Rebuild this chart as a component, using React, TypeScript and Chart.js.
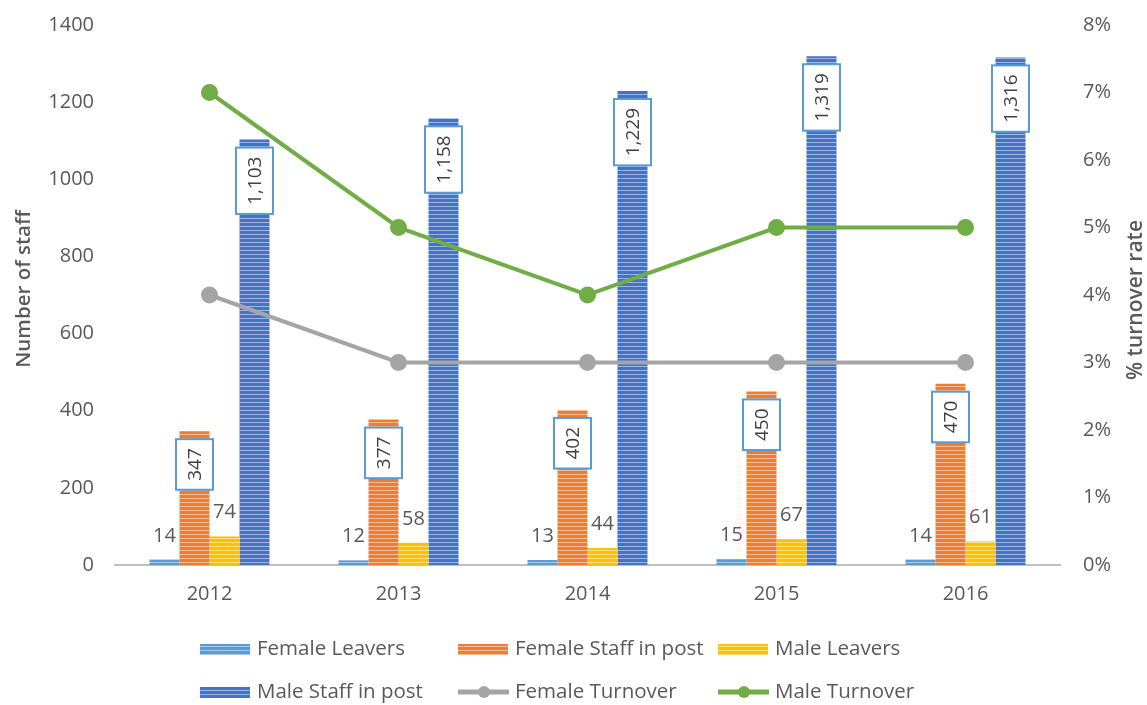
import React, { useEffect, useRef } from "react";
import { Chart, registerables } from "chart.js";
Chart.register(...registerables);

const years = ["2012", "2013", "2014", "2015", "2016"];
const femaleLeavers = [14, 12, 13, 15, 14];
const femaleStaff = [347, 377, 402, 450, 470];
const maleLeavers = [74, 58, 44, 67, 61];
const maleStaff = [1103, 1158, 1229, 1319, 1316];
const femaleTurnover = [4, 3, 3, 3, 3];
const maleTurnover = [7, 5, 4, 5, 5];
const leftMax = 1400;
const leftStep = 200;
const rightMax = 8;
const rightStep = 1;

const FONT = '"Open Sans", "Noto Sans", sans-serif';
const TXT = "#595959";

function stripe(base: string, light: string): CanvasPattern | string {
  const c = document.createElement("canvas");
  c.width = 4;
  c.height = 4;
  const g = c.getContext("2d");
  if (!g) return base;
  g.fillStyle = base;
  g.fillRect(0, 0, 4, 4);
  g.fillStyle = light;
  g.fillRect(0, 2, 4, 1);
  return g.createPattern(c, "repeat") || base;
}

const fmt = (v: number) => v.toLocaleString("en-US");

export default function App() {
  const ref = useRef<HTMLCanvasElement | null>(null);
  useEffect(() => {
    if (!ref.current) return;
    const pFL = stripe("#5B9BD5", "#A9CBEA");
    const pFS = stripe("#ED7D31", "#F6BE98");
    const pML = stripe("#FFC000", "#FFE080");
    const pMS = stripe("#4472C4", "#9DB5E2");

    const labelPlugin = {
      id: "customLabels",
      afterDatasetsDraw(chart: any) {
        const ctx = chart.ctx as CanvasRenderingContext2D;
        ctx.save();
        const plain: [number, number[]][] = [
          [0, femaleLeavers],
          [2, maleLeavers],
        ];
        ctx.font = `20px ${FONT}`;
        ctx.fillStyle = TXT;
        ctx.textAlign = "center";
        ctx.textBaseline = "alphabetic";
        plain.forEach(([di, vals]) => {
          chart.getDatasetMeta(di).data.forEach((el: any, j: number) => {
            ctx.fillText(String(vals[j]), el.x, el.y - 18);
          });
        });
        const boxed: [number, number[]][] = [
          [1, femaleStaff],
          [3, maleStaff],
        ];
        boxed.forEach(([di, vals]) => {
          chart.getDatasetMeta(di).data.forEach((el: any, j: number) => {
            const txt = fmt(vals[j]);
            ctx.font = `19px ${FONT}`;
            const w = ctx.measureText(txt).width;
            const len = w + 18;
            const thick = 37;
            ctx.save();
            ctx.translate(el.x, el.y + 8 + len / 2);
            ctx.rotate(-Math.PI / 2);
            ctx.fillStyle = "#ffffff";
            ctx.fillRect(-len / 2, -thick / 2, len, thick);
            ctx.strokeStyle = "#5B9BD5";
            ctx.lineWidth = 2;
            ctx.strokeRect(-len / 2, -thick / 2, len, thick);
            ctx.fillStyle = "#404040";
            ctx.textAlign = "center";
            ctx.textBaseline = "middle";
            ctx.fillText(txt, 0, 1);
            ctx.restore();
          });
        });
        ctx.restore();
      },
      afterDraw(chart: any) {
        const ctx = chart.ctx as CanvasRenderingContext2D;
        ctx.save();
        // axis titles
        ctx.fillStyle = TXT;
        ctx.textAlign = "center";
        ctx.textBaseline = "middle";
        ctx.save();
        ctx.font = `600 20.5px ${FONT}`;
        ctx.translate(24, 289);
        ctx.rotate(-Math.PI / 2);
        ctx.fillText("Number of staff", 0, 0);
        ctx.restore();
        ctx.save();
        ctx.font = `600 21px ${FONT}`;
        ctx.translate(1136, 300);
        ctx.rotate(-Math.PI / 2);
        ctx.fillText("% turnover rate", 0, 0);
        ctx.restore();

        // legend
        const items: { x: number; y: number; label: string; kind: "bar" | "line"; fill: any }[] = [
          { x: 200, y: 649, label: "Female Leavers", kind: "bar", fill: pFL },
          { x: 458, y: 649, label: "Female Staff in post", kind: "bar", fill: pFS },
          { x: 718, y: 649, label: "Male Leavers", kind: "bar", fill: pML },
          { x: 200, y: 692, label: "Male Staff in post", kind: "bar", fill: pMS },
          { x: 458, y: 692, label: "Female Turnover", kind: "line", fill: "#A5A5A5" },
          { x: 718, y: 692, label: "Male Turnover", kind: "line", fill: "#70AD47" },
        ];
        ctx.font = `20.5px ${FONT}`;
        ctx.textAlign = "left";
        ctx.textBaseline = "middle";
        items.forEach((it) => {
          if (it.kind === "bar") {
            ctx.fillStyle = it.fill;
            ctx.fillRect(it.x, it.y - 5, 50, 11);
          } else {
            ctx.strokeStyle = it.fill;
            ctx.lineWidth = 5;
            ctx.beginPath();
            ctx.moveTo(it.x, it.y);
            ctx.lineTo(it.x + 51, it.y);
            ctx.stroke();
            ctx.fillStyle = it.fill;
            ctx.beginPath();
            ctx.arc(it.x + 26, it.y, 6, 0, Math.PI * 2);
            ctx.fill();
          }
          ctx.fillStyle = TXT;
          ctx.fillText(it.label, it.x + 57, it.y);
        });
        ctx.restore();
      },
    };

    const barCommon = { categoryPercentage: 0.635, barPercentage: 1.0, order: 1, yAxisID: "y" };
    const lineCommon = {
      type: "line" as const,
      yAxisID: "y1",
      borderWidth: 4,
      pointRadius: 6.5,
      pointHoverRadius: 6.5,
      order: 0,
      tension: 0,
    };

    const tickFont = { family: FONT, size: 20 };

    const chart = new Chart(ref.current, {
      type: "bar",
      data: {
        labels: years,
        datasets: [
          { ...barCommon, label: "Female Leavers", data: femaleLeavers, backgroundColor: pFL as any },
          { ...barCommon, label: "Female Staff in post", data: femaleStaff, backgroundColor: pFS as any },
          { ...barCommon, label: "Male Leavers", data: maleLeavers, backgroundColor: pML as any },
          { ...barCommon, label: "Male Staff in post", data: maleStaff, backgroundColor: pMS as any },
          {
            ...lineCommon,
            label: "Female Turnover",
            data: femaleTurnover,
            borderColor: "#A5A5A5",
            backgroundColor: "#A5A5A5",
            pointBackgroundColor: "#A5A5A5",
            pointBorderColor: "#A5A5A5",
          } as any,
          {
            ...lineCommon,
            label: "Male Turnover",
            data: maleTurnover,
            borderColor: "#70AD47",
            backgroundColor: "#70AD47",
            pointBackgroundColor: "#70AD47",
            pointBorderColor: "#70AD47",
          } as any,
        ],
      },
      options: {
        responsive: false,
        animation: false,
        layout: { padding: { top: 25, left: 0, right: 0, bottom: 0 } },
        plugins: { legend: { display: false }, tooltip: { enabled: false } },
        scales: {
          x: {
            grid: { display: false, drawTicks: false },
            border: { display: true, color: "#BFBFBF", width: 2 },
            ticks: { color: TXT, font: tickFont, padding: 17 },
            afterFit(s: any) {
              s.height = 140;
              s.paddingLeft = 0;
              s.paddingRight = 0;
            },
          },
          y: {
            position: "left",
            min: 0,
            max: leftMax,
            grid: { display: false, drawTicks: false },
            border: { display: false },
            ticks: {
              stepSize: leftStep,
              color: TXT,
              font: tickFont,
              padding: 21,
              callback: (v: any) => String(v),
            },
            afterFit(s: any) {
              s.width = 115;
              s.paddingTop = 0;
              s.paddingBottom = 0;
            },
          },
          y1: {
            position: "right",
            min: 0,
            max: rightMax,
            grid: { display: false, drawTicks: false },
            border: { display: false },
            ticks: {
              stepSize: rightStep,
              color: TXT,
              font: tickFont,
              padding: 23,
              callback: (v: any) => `${v}%`,
            },
            afterFit(s: any) {
              s.width = 87;
              s.paddingTop = 0;
              s.paddingBottom = 0;
            },
          },
        },
      } as any,
      plugins: [labelPlugin],
    });
    return () => chart.destroy();
  }, []);

  return (
    <div style={{ position: "fixed", left: 0, top: 0, width: 1147, height: 705, background: "#fff" }}>
      <canvas ref={ref} width={1147} height={705} style={{ display: "block" }} />
    </div>
  );
}
